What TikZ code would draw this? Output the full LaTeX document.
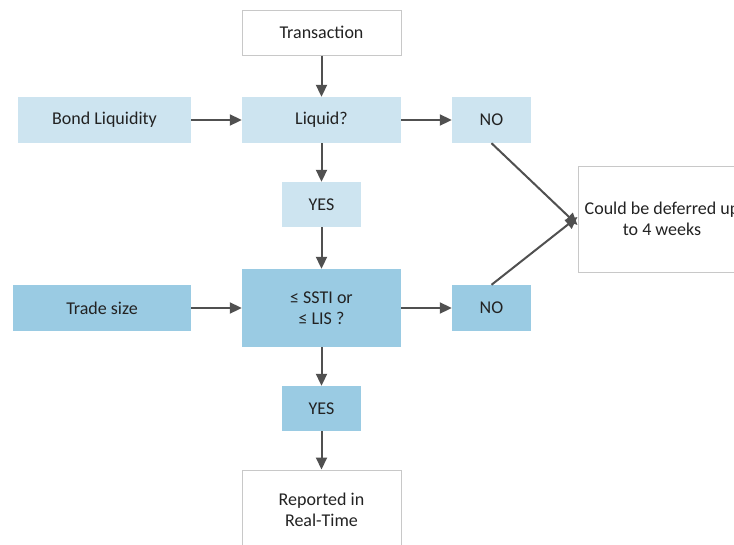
\documentclass[tikz,border=0pt]{standalone}
\usepackage{fontspec}
\setmainfont{Carlito}
\usetikzlibrary{arrows.meta}
\definecolor{lightb}{HTML}{CDE4F0}
\definecolor{darkb}{HTML}{9ACBE3}
\definecolor{arr}{HTML}{505050}
\definecolor{txt}{HTML}{222222}
\definecolor{bord}{HTML}{C8C8C8}
\begin{document}
\begin{tikzpicture}[x=1pt,y=-1pt,
  box/.style={rectangle,inner sep=0pt,align=center,text=txt,font=\fontsize{18}{21}\selectfont},
  wbox/.style={box,draw=bord,line width=1pt,fill=white},
  lbox/.style={box,fill=lightb},
  dbox/.style={box,fill=darkb},
  conn/.style={draw=arr,line width=2pt,-{Triangle[length=12pt,width=11pt]}}]
\clip (0,0) rectangle (734,544);
\fill[white] (0,0) rectangle (734,544);
\node[wbox,minimum width=159pt,minimum height=45pt] (trans) at (321.5,32.5) {Transaction};
\node[lbox,minimum width=173pt,minimum height=46pt] (bond) at (104.5,120) {Bond Liquidity};
\node[lbox,minimum width=159pt,minimum height=46pt] (liq) at (321.5,120) {Liquid?};
\node[lbox,minimum width=79pt,minimum height=46pt] (no1) at (491.5,120) {NO};
\node[lbox,minimum width=79pt,minimum height=45pt] (yes1) at (321.5,204.5) {YES};
\node[dbox,minimum width=159pt,minimum height=78pt] (ssti) at (321.5,308) {≤ SSTI or\\≤ LIS ?};
\node[dbox,minimum width=178pt,minimum height=46pt] (trade) at (102,308) {Trade size};
\node[dbox,minimum width=79pt,minimum height=46pt] (no2) at (491.5,308) {NO};
\node[dbox,minimum width=79pt,minimum height=45pt] (yes2) at (321.5,408.5) {YES};
\node[wbox,minimum width=159pt,minimum height=80pt] (rep) at (321.5,510) {Reported in\\Real-Time};
\node[wbox,minimum width=168pt,minimum height=106pt] (def) at (662,219) {Could be deferred up\\to 4 weeks};
\coordinate (d1) at ([yshift=-6pt]def.west);
\coordinate (d2) at ([yshift=2pt]def.west);
\draw[conn] (trans) -- (liq);
\draw[conn] (bond) -- (liq);
\draw[conn] (liq) -- (no1);
\draw[conn] (liq) -- (yes1);
\draw[conn] (yes1) -- (ssti);
\draw[conn] (trade) -- (ssti);
\draw[conn] (ssti) -- (no2);
\draw[conn] (ssti) -- (yes2);
\draw[conn] (yes2) -- (rep);
\draw[conn] (no1.south) -- (d1);
\draw[conn] (no2.north) -- (d2);
\end{tikzpicture}
\end{document}
